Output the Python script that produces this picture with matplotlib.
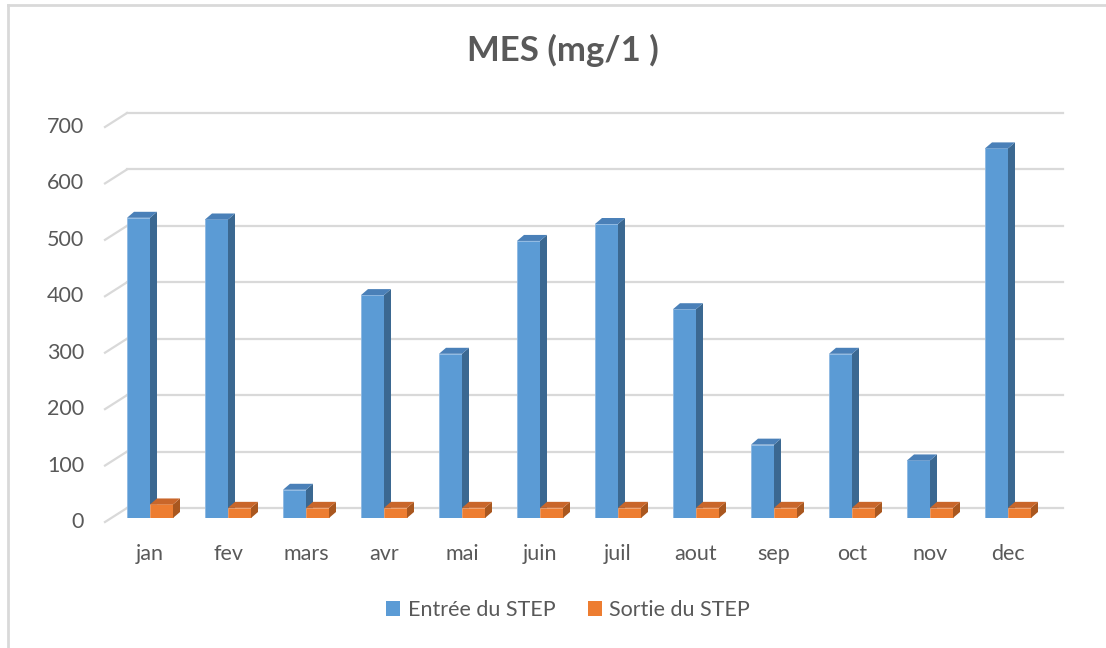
import matplotlib.pyplot as plt
from matplotlib.patches import Polygon, Patch
from matplotlib.lines import Line2D

# monthly MES values (mg/l), inlet and outlet of the treatment plant
months = ['jan', 'fev', 'mars', 'avr', 'mai', 'juin', 'juil', 'aout', 'sep', 'oct', 'nov', 'dec']
entree = [532, 529, 50, 395, 291, 491, 521, 370, 130, 291, 102, 655]
sortie = [24, 18, 18, 18, 18, 18, 18, 18, 18, 18, 18, 18]
yticks = [0, 100, 200, 300, 400, 500, 600, 700]
series_names = ['Entrée du STEP', 'Sortie du STEP']

plt.rcParams['font.family'] = ['Lato', 'DejaVu Sans']
txt = '#595959'

# (front, side, top) shades for each series
blue = ('#5b9bd5', '#3b6891', '#4a80b8')
orange = ('#ed7d31', '#a9571f', '#c9662a')

fig = plt.figure(figsize=(11.06, 6.48), dpi=100)
W, H = 1106, 648
# axes spans the front plane of the bars: x 111..1047 px, y 518..123 px
ax = fig.add_axes([111 / W, (H - 518) / H, 936 / W, 395 / H])
ax.set_xlim(-0.5, len(months) - 0.5)
ax.set_ylim(0, 700)
ax.axis('off')

# pixel -> data conversion for the fake depth
px_x = (len(months)) / 936
px_y = 700 / 395

# back wall gridlines plus the slanted floor edges on the left
for v in yticks:
    x0, x1 = -0.5, len(months) - 0.5
    ax.add_line(Line2D([x0 - 6 * px_x, x0 + 16 * px_x], [v - 4 * px_y, v + 10 * px_y],
                       color='#d9d9d9', lw=1.6, clip_on=False, zorder=1))
    ax.add_line(Line2D([x0 + 16 * px_x, x1 + 16 * px_x], [v + 10 * px_y, v + 10 * px_y],
                       color='#d9d9d9', lw=1.6, clip_on=False, zorder=1))
    ax.text(x0 - 27 * px_x, v - 4 * px_y, str(v), ha='right', va='center',
            fontsize=15.5, color=txt)

bw = 23 * px_x
dx = 7 * px_x
dy = 6 * px_y


def bar3d(xl, val, shades):
    ax.bar(xl, val, width=bw, align='edge', color=shades[0], edgecolor='#8db8e2' if shades is blue else '#f3a36e',
           linewidth=0.6, zorder=3)
    xr = xl + bw
    ax.add_patch(Polygon([(xr, 0), (xr, val), (xr + dx, val + dy), (xr + dx, dy)],
                         closed=True, facecolor=shades[1], edgecolor='none', zorder=3, clip_on=False))
    ax.add_patch(Polygon([(xl, val), (xr, val), (xr + dx, val + dy), (xl + dx, val + dy)],
                         closed=True, facecolor=shades[2], edgecolor='none', zorder=3, clip_on=False))


for i, m in enumerate(months):
    bar3d(i - bw, entree[i], blue)
    bar3d(i, sortie[i], orange)
    ax.text(i, -36 * px_y, m, ha='center', va='center', fontsize=15.5, color=txt)

fig.text(563 / W, 1 - 50 / H, 'MES (mg/1 )', ha='center', va='center',
         fontsize=25, fontweight='bold', color=txt)

handles = [Patch(facecolor=blue[0]), Patch(facecolor=orange[0])]
fig.legend(handles, series_names, loc='center', bbox_to_anchor=(568 / W, 1 - 610 / H), ncol=2,
           frameon=False, fontsize=15.5, labelcolor=txt, handlelength=0.65, handleheight=0.65,
           handletextpad=0.35, columnspacing=1.5)

# chart border (left and top edges)
fig.add_artist(Line2D([8 / W, 8 / W], [0, 1 - 5 / H], color='#d9d9d9', lw=2))
fig.add_artist(Line2D([8 / W, 1], [1 - 5 / H, 1 - 5 / H], color='#d9d9d9', lw=2))

fig.savefig('out.png', dpi=100)
